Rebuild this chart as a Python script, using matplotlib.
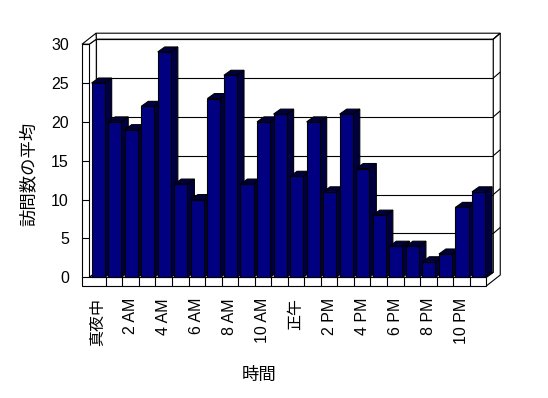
import matplotlib

matplotlib.use("Agg")

import matplotlib.pyplot as plt
from matplotlib.patches import Polygon

plt.rcParams['font.family'] = ['Liberation Sans', 'Noto Sans CJK JP', 'DejaVu Sans']

# データ
hours = list(range(24))
visits = [25, 20, 19, 22, 29, 12, 10, 23, 26, 12, 20, 21,
          13, 20, 11, 21, 14, 8, 4, 4, 2, 3, 9, 11]
tick_labels = ['真夜中', '2 AM', '4 AM', '6 AM', '8 AM', '10 AM',
               '正午', '2 PM', '4 PM', '6 PM', '8 PM', '10 PM']
y_ticks = [0, 5, 10, 15, 20, 25, 30]

# 見た目 (px単位 -> データ単位)
PX_X = 16.54
PX_Y = 7.77
DX1, DY1 = 7 / PX_X, 5 / PX_Y
DX2, DY2 = 14 / PX_X, 11 / PX_Y
WALL = 7.3 / PX_X
FLOOR = 8.7 / PX_Y
BAR_OFF = 0.14
BAR_W = 0.79
YMAX = 30
N = len(visits)
FS = 11.5

fig = plt.figure(figsize=(5.48, 3.98), dpi=100)
xl, xr = -WALL, N + 1.0
yb, yt = -FLOOR, YMAX + 1.5
ax = fig.add_axes([82 / 548, 112 / 398,
                   (xr - xl) * PX_X / 548, (yt - yb) * PX_Y / 398])
ax.set_xlim(xl, xr)
ax.set_ylim(yb, yt)
for s in ax.spines.values():
    s.set_visible(False)


def poly(pts, fc, z):
    ax.add_patch(Polygon(pts, closed=True, fc=fc, ec='black', lw=0.8,
                         joinstyle='miter', zorder=z, clip_on=False))


def line(xs, ys, z=2):
    ax.plot(xs, ys, color='black', lw=0.8, zorder=z, clip_on=False,
            solid_capstyle='butt')


# 奥の壁
poly([(DX1, DY1), (N + DX1, DY1), (N + DX1, YMAX + DY1), (DX1, YMAX + DY1)], 'white', 1)
for v in y_ticks[1:]:
    line([DX1, N + DX1], [v + DY1, v + DY1], 1.5)
poly([(DX1, YMAX + DY1), (N + DX1, YMAX + DY1), (N + DX2, YMAX + DY2),
      (-WALL + DX2, YMAX + DY2)], 'white', 1)

# 右側面
poly([(N, -FLOOR), (N + DX2, -FLOOR + DY2), (N + DX2, YMAX + DY2),
      (N + DX1, YMAX + DY1), (N + DX1, DY1), (N, 0)], 'white', 1)
for v in y_ticks[1:]:
    line([N + DX1, N + DX2], [v + DY1, v + DY2], 1.5)

# 左の壁と床
poly([(0, 0), (DX1, DY1), (DX1, YMAX + DY1), (0, YMAX)], 'white', 1.6)
poly([(-WALL, YMAX), (0, YMAX), (DX1, YMAX + DY1), (-WALL + DX2, YMAX + DY2)], 'white', 1.6)
poly([(0, 0), (N, 0), (N + DX1, DY1), (DX1, DY1)], 'white', 1.6)
poly([(-WALL, YMAX), (0, YMAX), (0, 0), (N, 0), (N, -FLOOR), (-WALL, -FLOOR)], 'white', 1.7)
for i in range(1, N):
    line([i, i], [-FLOOR, 0], 1.8)
for v in y_ticks:
    line([-WALL, 0], [v, v], 1.8)

# 棒
for i, v in zip(hours, visits):
    z = 3 + i * 0.01
    x0 = i + BAR_OFF
    x1 = x0 + BAR_W
    poly([(x1, 0), (x1 + DX1, DY1), (x1 + DX1, v + DY1), (x1, v)], '#000040', z)
    poly([(x0, v), (x1, v), (x1 + DX1, v + DY1), (x0 + DX1, v + DY1)], '#000040', z)
    poly([(x0, 0), (x1, 0), (x1, v), (x0, v)], '#000080', z)

ax.set_yticks(y_ticks)
ax.set_yticklabels([str(t) for t in y_ticks], fontsize=FS)
ax.tick_params(axis='y', length=0, pad=9.4)
ax.set_xticks([h + 0.5 for h in hours[::2]])
ax.set_xticklabels(tick_labels, rotation=90, fontsize=FS)
ax.tick_params(axis='x', length=0, pad=8.6)

fig.text(28 / 548, 1 - 174 / 398, '訪問数の平均', rotation=90,
         ha='center', va='center', fontsize=12.5)
fig.text(259 / 548, 1 - 375 / 398, '時間', ha='center', va='center', fontsize=12.5)

fig.savefig('out.png', dpi=100, facecolor='white')
